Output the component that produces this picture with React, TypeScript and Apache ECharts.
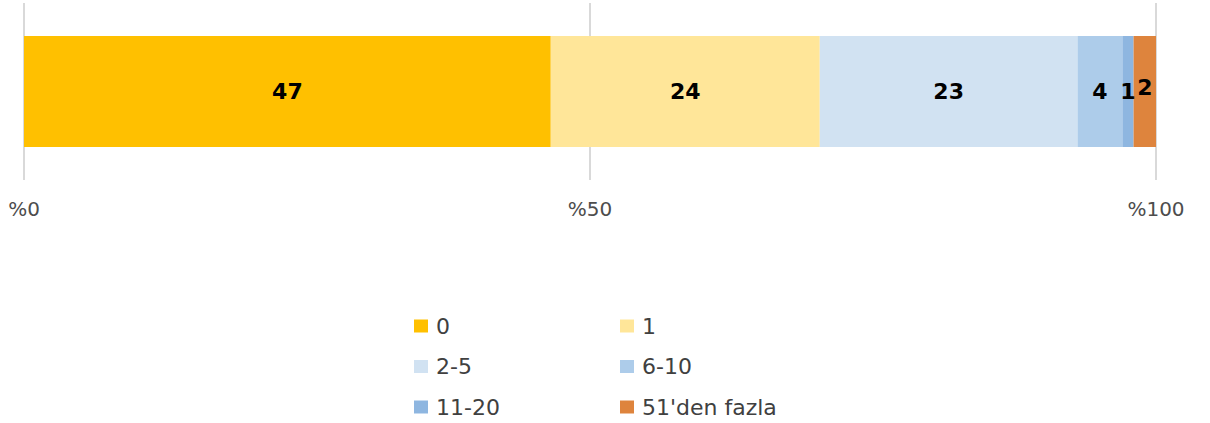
import React, { useEffect, useRef } from "react";
import * as echarts from "echarts";

const seriesNames = ["0", "1", "2-5", "6-10", "11-20", "51'den fazla"];
const seriesValues = [47, 24, 23, 4, 1, 2];
const seriesColors = ["#FFC000", "#FFE699", "#D1E2F2", "#ADCCEA", "#8EB6E0", "#DE843D"];
const xTicks = [0, 50, 100];
const rowCategory = ["Toplam"];

export default function App() {
  const ref = useRef<HTMLDivElement>(null);
  useEffect(() => {
    document.body.style.margin = "0";
    if (!ref.current) return;
    const chart = echarts.init(ref.current, null, { renderer: "svg" });
    const total = seriesValues.reduce((a, b) => a + b, 0);
    const series = seriesNames.map((name, i) => ({
      name,
      type: "bar",
      stack: "total",
      barWidth: 111,
      itemStyle: { color: seriesColors[i] },
      label: {
        show: true,
        position: "inside",
        formatter: () => String(seriesValues[i]),
        color: "#000",
        fontFamily: "DejaVu Sans",
        fontWeight: 900,
        fontSize: 22,
        offset: i === seriesNames.length - 1 ? [0, -4] : [0, 0],
      },
      data: [(seriesValues[i] / total) * 100],
    }));
    const legends = seriesNames.map((name, i) => ({
      data: [name],
      left: i % 2 === 0 ? 414 : 620,
      top: 315 + Math.floor(i / 2) * 40.5,
      orient: "horizontal",
      icon: "rect",
      itemWidth: 14,
      itemHeight: 13,
      itemGap: 0,
      selectedMode: false,
      textStyle: {
        fontFamily: "DejaVu Sans",
        fontSize: 22,
        color: "#404040",
        padding: [0, 0, 0, 3],
      },
      padding: 0,
    }));
    chart.setOption({
      animation: false,
      grid: { left: 24, right: 54, top: 3, bottom: 243, containLabel: false },
      xAxis: {
        type: "value",
        min: 0,
        max: 100,
        interval: 50,
        axisLine: { show: false },
        axisTick: { show: false },
        splitLine: { show: true, lineStyle: { color: "#D9D9D9", width: 2 } },
        axisLabel: {
          formatter: (v: number) => (xTicks.includes(v) ? "%" + v : ""),
          fontFamily: "DejaVu Sans",
          fontSize: 20,
          color: "#4D4D4D",
          margin: 19,
        },
      },
      yAxis: {
        type: "category",
        data: rowCategory,
        show: false,
      },
      legend: legends,
      series,
    });
    return () => chart.dispose();
  }, []);
  return <div ref={ref} style={{ width: 1210, height: 423 }} />;
}
